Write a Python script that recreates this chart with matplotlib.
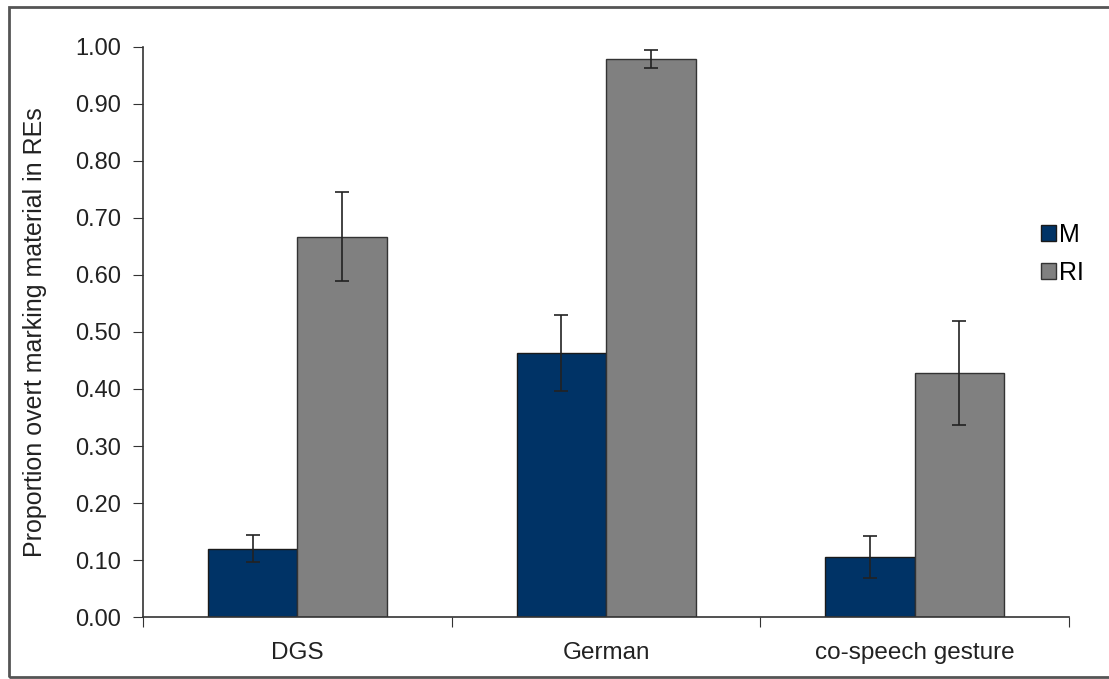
import numpy as np
import matplotlib.pyplot as plt
from matplotlib.patches import Rectangle

plt.rcParams['font.family'] = ['Liberation Sans', 'DejaVu Sans']

# data
categories = ['DGS', 'German', 'co-speech gesture']
m_vals = [0.12, 0.463, 0.105]
m_err = [0.024, 0.066, 0.037]
ri_vals = [0.667, 0.979, 0.428]
ri_err = [0.078, 0.015, 0.091]

fig = plt.figure(figsize=(11.09, 6.79), dpi=100)
ax = fig.add_axes([0.129, 0.0913, 0.835, 0.8395])

x = np.arange(len(categories)) + 0.5
w = 0.29
ax.bar(x - w/2, m_vals, w, yerr=m_err, color='#003366', edgecolor='#1a1a1a',
       linewidth=1, label='M', error_kw=dict(ecolor='#222222', elinewidth=1.2, capsize=5, capthick=1.2))
ax.bar(x + w/2, ri_vals, w, yerr=ri_err, color='#808080', edgecolor='#333333',
       linewidth=1, label='RI', error_kw=dict(ecolor='#222222', elinewidth=1.2, capsize=5, capthick=1.2))

ax.set_xlim(0, 3)
ax.set_ylim(0, 1.0)
ax.set_yticks(np.arange(0, 1.01, 0.1))
ax.set_yticklabels(['%.2f' % v for v in np.arange(0, 1.01, 0.1)], fontsize=17, color='#222222')
ax.set_xticks([0, 1, 2, 3])
ax.set_xticklabels([])
ax.set_xticks(x, minor=True)
ax.set_xticklabels(categories, minor=True, fontsize=17.5, color='#222222')
ax.tick_params(axis='x', which='minor', length=0, pad=18)
ax.tick_params(axis='x', which='major', length=7, direction='out', color='#333333')
ax.tick_params(axis='y', length=7, direction='out', color='#333333', pad=9)
for s in ['top', 'right']:
    ax.spines[s].set_visible(False)
for s in ['left', 'bottom']:
    ax.spines[s].set_color('#333333')
    ax.spines[s].set_linewidth(1.2)

ax.set_ylabel('Proportion overt marking material in REs', fontsize=18, color='#222222', labelpad=20)

leg = ax.legend(loc='center left', bbox_to_anchor=(0.945, 0.637), frameon=False, fontsize=18,
                handlelength=0.6, handleheight=0.6, handletextpad=0.15, labelspacing=0.55)

fig.patches.append(Rectangle((9/1109, 2/679), 1.2, 670/679, transform=fig.transFigure,
                             fill=False, edgecolor='#555555', linewidth=2))

fig.savefig('out.png', dpi=100)
